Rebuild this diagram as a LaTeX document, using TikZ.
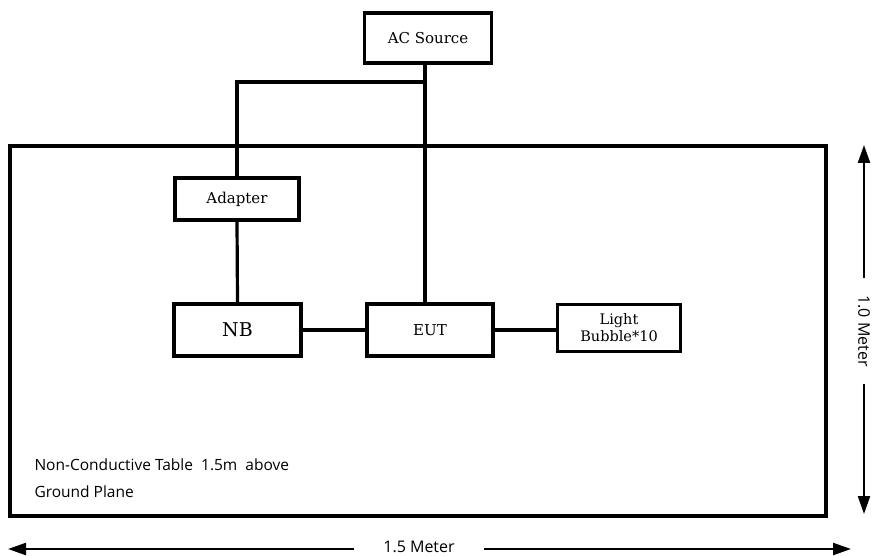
\documentclass[tikz,border=0pt]{standalone}
\usepackage{fontspec}
\setmainfont{DejaVu Serif}
\newfontfamily\notefont{Open Sans}
\newfontfamily\dimfont{Open Sans}
\usetikzlibrary{arrows.meta}
\begin{document}
\begin{tikzpicture}[x=1pt,y=-1pt,
  box/.style={draw,line width=3.4pt,inner sep=0pt,align=center,font=\fontsize{15}{17}\selectfont},
  wire/.style={line width=3.2pt},
  dimarrow/.style={line width=2.2pt,-{Triangle[length=18pt,width=12pt]}},
  dimlabel/.style={font=\dimfont\fontsize{16}{18}\selectfont,inner sep=0pt}]
\useasboundingbox (0,0) rectangle (873,556);
\node[draw,line width=3.6pt,minimum width=816pt,minimum height=370pt,inner sep=0pt] (table) at (418,331) {};
\node[box,minimum width=127pt,minimum height=50pt] (ac) at (428,38) {AC Source};
\node[box,minimum width=124pt,minimum height=42pt] (adapter) at (237,199) {Adapter};
\node[box,minimum width=127pt,minimum height=52pt,font=\fontsize{19}{21}\selectfont] (nb) at (237.5,330) {NB};
\node[box,minimum width=126pt,minimum height=52pt] (eut) at (430,330) {EUT};
\node[box,minimum width=123pt,minimum height=47pt,font=\fontsize{14.5}{17}\selectfont] (light) at (619,328) {Light\\Bubble*10};
\coordinate (junc) at (425,82);
\draw[wire] (ac.south -| junc) -- (eut.north -| junc);
\draw[wire] (junc) -| (adapter.north);
\draw[wire] (adapter.south) -- (nb.north);
\draw[wire] (nb.east) -- (eut.west);
\draw[wire] (eut.east) -- (light.west |- eut.east);
\node[anchor=base west,font=\notefont\fontsize{15.5}{17}\selectfont] (note1) at (31,470) {Non-Conductive Table\ \ 1.5m\ \ above};
\node[anchor=base west,font=\notefont\fontsize{15.5}{17}\selectfont] (note2) at (31,497) {Ground Plane};
\coordinate (bl) at (8,549);
\coordinate (br) at (851,549);
\node[dimlabel,minimum width=130pt] (wlabel) at (419,547) {1.5 Meter};
\draw[dimarrow] (wlabel.west |- bl) -- (bl);
\draw[dimarrow] (wlabel.east |- br) -- (br);
\coordinate (vt) at (864,145);
\coordinate (vb) at (864,514);
\node[dimlabel,rotate=-90,minimum width=106pt] (hlabel) at (864,331) {1.0 Meter};
\draw[dimarrow] (hlabel.west) -- (vt);
\draw[dimarrow] (hlabel.east) -- (vb);
\end{tikzpicture}
\end{document}
